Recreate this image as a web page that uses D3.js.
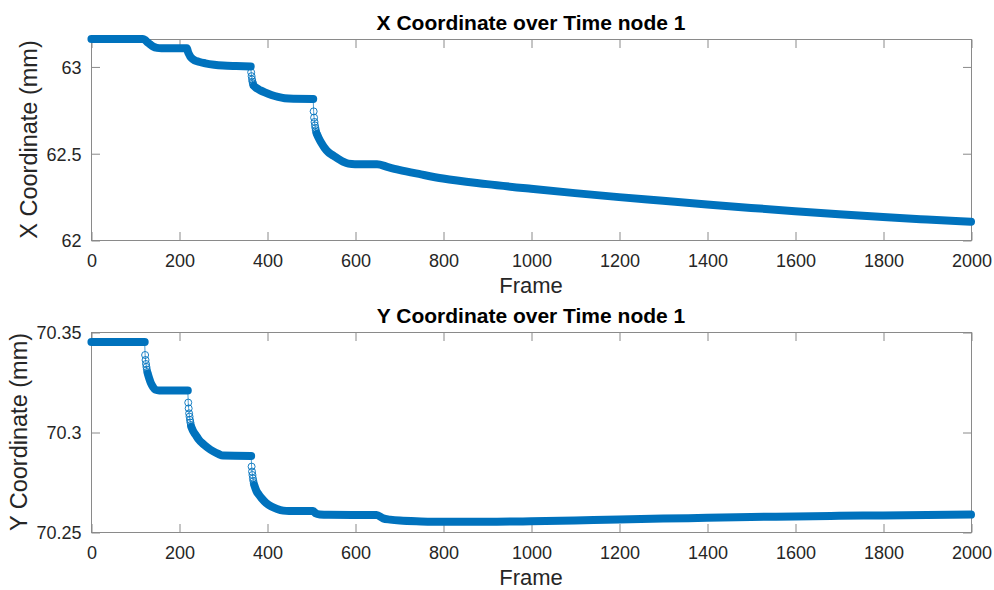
<!DOCTYPE html>
<html>
<head>
<meta charset="utf-8">
<script src="https://cdn.jsdelivr.net/npm/d3@7"></script>
<style>
  html, body { margin: 0; padding: 0; background: #fff; }
  svg { display: block; font-family: "Liberation Sans", Arial, Helvetica, sans-serif; }
</style>
</head>
<body>
<svg id="fig" width="994" height="590"></svg>
<script>
// ---- data -------------------------------------------------------------
const frameTicks = d3.range(0, 2001, 200);
const xCoordTicks = [62, 62.5, 63];
const yCoordTicks = [70.25, 70.3, 70.35];

// X coordinate of node 1: trace knots (frames where the markers merge into a solid run)
const xFrames = [1, 118, 123, 128, 134, 141, 150, 160, 218, 220, 222, 225, 229, 235, 245, 260, 280, 300, 330, 363,
  370, 375, 385, 395, 410, 425, 440, 460, 505,
  513, 518, 524, 531, 539, 547, 555, 565, 574, 585, 600, 650, 675, 700, 750, 800, 900, 1000, 1100, 1200, 1300,
  1400, 1500, 1600, 1700, 1800, 1900, 2000];
const xValues = [63.158, 63.158, 63.152, 63.14, 63.128, 63.115, 63.107, 63.105, 63.105, 63.088, 63.074, 63.06, 63.047,
  63.036, 63.027, 63.018, 63.01, 63.005, 63.002, 63.0,
  62.888, 62.877, 62.862, 62.85, 62.835, 62.824, 62.817, 62.814, 62.813,
  62.612, 62.585, 62.557, 62.53, 62.507, 62.492, 62.479, 62.463, 62.45, 62.44, 62.437, 62.437, 62.42, 62.404,
  62.378, 62.354, 62.322, 62.295, 62.27, 62.247, 62.226, 62.205, 62.185, 62.166, 62.148, 62.132, 62.118, 62.105];
// X coordinate: single frames inside the fast drops
const xDropFrames = [364, 365, 366, 367, 368, 369, 506, 507, 508, 509, 510, 511, 512];
const xDropValues = [62.966, 62.944, 62.925, 62.912, 62.902, 62.894, 62.741, 62.705, 62.68, 62.66, 62.645, 62.632, 62.621];

// Y coordinate of node 1: trace knots
const yFrames = [1, 122, 129, 132, 136, 141, 146, 155, 220,
  228, 232, 238, 245, 255, 265, 278, 290, 300, 364,
  371, 376, 382, 388, 398, 410, 423, 437, 450, 505, 510, 520, 540, 649, 664, 680, 702, 750, 800, 900, 1000,
  1100, 1200, 1300, 1400, 1500, 1600, 1700, 1800, 1900, 2000];
const yValues = [70.345, 70.345, 70.3292, 70.327, 70.3245, 70.3225, 70.3212, 70.3208, 70.3208,
  70.3025, 70.3005, 70.2985, 70.2962, 70.294, 70.2922, 70.2903, 70.289, 70.2882, 70.288,
  70.2735, 70.2705, 70.2685, 70.2668, 70.2645, 70.2627, 70.2615, 70.2607, 70.2605, 70.2605, 70.2594, 70.2588,
  70.2586, 70.2585, 70.2568, 70.2562, 70.2557, 70.2553, 70.2551, 70.2551, 70.2554,
  70.2558, 70.2562, 70.2567, 70.2571, 70.2575, 70.2578, 70.2581, 70.2583, 70.2585, 70.2587];
// Y coordinate: single frames inside the fast drops
const yDropFrames = [123, 124, 125, 126, 127, 128, 221, 222, 223, 224, 225, 226, 227, 365, 366, 367, 368, 369, 370];
const yDropValues = [70.3385, 70.336, 70.334, 70.3325, 70.3312, 70.33, 70.3147, 70.3118, 70.3093, 70.3077, 70.306,
  70.3047, 70.3035, 70.2827, 70.2802, 70.2785, 70.2768, 70.2755, 70.2744];

// ---- drawing ----------------------------------------------------------
const svg = d3.select("#fig");
const BLUE = "#0072BD";
const AXIS = "#8a8a8a";
const TEXT = "#262626";
const left = 91, right = 971;
const markerR = 3.5;

function splitRuns(frames, values, dropFrames) {
  const runs = [];
  let cur = [];
  frames.forEach((f, i) => {
    if (cur.length) {
      const prev = cur[cur.length - 1][0];
      if (dropFrames.some(d => d > prev && d < f)) { runs.push(cur); cur = []; }
    }
    cur.push([f, values[i]]);
  });
  if (cur.length) runs.push(cur);
  return runs;
}

function drawPanel(cfg) {
  const g = svg.append("g");
  const x = d3.scaleLinear().domain([0, 2000]).range([left, right]);
  const y = d3.scaleLinear().domain(cfg.domain).range([cfg.bottom, cfg.top]);
  const tickLen = 8.5;

  // box
  g.append("rect")
    .attr("x", left + 0.5).attr("y", cfg.top + 0.5)
    .attr("width", right - left).attr("height", cfg.bottom - cfg.top)
    .attr("fill", "none").attr("stroke", AXIS).attr("stroke-width", 1);

  // frame axis (bottom) with mirrored ticks on top
  const xAxis = d3.axisBottom(x).tickValues(frameTicks).tickSizeInner(-tickLen).tickSizeOuter(0)
    .tickPadding(0).tickFormat(d3.format("d"));
  const gx = g.append("g").attr("transform", `translate(0.5,${cfg.bottom + 0.5})`).call(xAxis);
  gx.select(".domain").remove();
  gx.selectAll(".tick line").attr("stroke", AXIS);
  gx.selectAll(".tick text").attr("fill", TEXT).attr("font-size", 18)
    .attr("y", 26).attr("dy", 0).style("font-family", "inherit");
  const gxTop = g.append("g").attr("transform", `translate(0.5,${cfg.top + 0.5})`)
    .call(d3.axisTop(x).tickValues(frameTicks).tickSizeInner(-tickLen).tickSizeOuter(0).tickFormat(""));
  gxTop.select(".domain").remove();
  gxTop.selectAll(".tick line").attr("stroke", AXIS);

  // value axis (left) with mirrored ticks on right
  const yAxis = d3.axisLeft(y).tickValues(cfg.ticks).tickSizeInner(-tickLen).tickSizeOuter(0)
    .tickPadding(0).tickFormat(d => String(d));
  const gy = g.append("g").attr("transform", `translate(${left + 0.5},0.5)`).call(yAxis);
  gy.select(".domain").remove();
  gy.selectAll(".tick line").attr("stroke", AXIS);
  gy.selectAll(".tick text").attr("fill", TEXT).attr("font-size", 18)
    .attr("x", -10).attr("dy", "0.35em").style("font-family", "inherit");
  const gyRight = g.append("g").attr("transform", `translate(${right + 0.5},0.5)`)
    .call(d3.axisRight(y).tickValues(cfg.ticks).tickSizeInner(-tickLen).tickSizeOuter(0).tickFormat(""));
  gyRight.select(".domain").remove();
  gyRight.selectAll(".tick line").attr("stroke", AXIS);

  // titles and labels
  g.append("text").attr("x", (left + right) / 2).attr("y", cfg.top - 9)
    .attr("text-anchor", "middle").attr("font-size", 21).attr("font-weight", "bold")
    .attr("fill", "#000").text(cfg.title);
  g.append("text").attr("x", (left + right) / 2).attr("y", cfg.bottom + 53)
    .attr("text-anchor", "middle").attr("font-size", 22).attr("fill", TEXT).text("Frame");
  let minLeft = Infinity;
  gy.selectAll(".tick text").each(function () {
    const b = this.getBBox();
    minLeft = Math.min(minLeft, left + b.x);
  });
  g.append("text")
    .attr("transform", `translate(${minLeft - 9},${(cfg.top + cfg.bottom) / 2}) rotate(-90)`)
    .attr("text-anchor", "middle").attr("font-size", 23.5).attr("fill", TEXT).text(cfg.ylabel);

  // series: thin connecting line through every sample
  const all = cfg.frames.map((f, i) => [f, cfg.values[i]])
    .concat(cfg.dropFrames.map((f, i) => [f, cfg.dropValues[i]]))
    .sort((a, b) => a[0] - b[0]);
  const thin = d3.line().x(d => x(d[0])).y(d => y(d[1]));
  g.append("path").attr("d", thin(all)).attr("fill", "none")
    .attr("stroke", BLUE).attr("stroke-width", 0.7);

  // densely packed markers merge into a solid run
  const band = d3.line().x(d => x(d[0])).y(d => y(d[1])).curve(d3.curveMonotoneX);
  splitRuns(cfg.frames, cfg.values, cfg.dropFrames).forEach(run => {
    g.append("path").attr("d", band(run)).attr("fill", "none")
      .attr("stroke", BLUE).attr("stroke-width", 2 * markerR + 1)
      .attr("stroke-linecap", "round").attr("stroke-linejoin", "round");
  });

  // individual circle markers in the fast drops
  g.selectAll("circle.drop").data(cfg.dropFrames.map((f, i) => [f, cfg.dropValues[i]]))
    .join("circle").attr("class", "drop")
    .attr("cx", d => x(d[0])).attr("cy", d => y(d[1])).attr("r", markerR)
    .attr("fill", "none").attr("stroke", BLUE).attr("stroke-width", 0.9);
}

drawPanel({
  top: 39, bottom: 240,
  domain: [62, d3.max(xValues)],
  ticks: xCoordTicks,
  title: "X Coordinate over Time node 1",
  ylabel: "X Coordinate (mm)",
  frames: xFrames, values: xValues, dropFrames: xDropFrames, dropValues: xDropValues
});
drawPanel({
  top: 332, bottom: 532,
  domain: [70.25, 70.35],
  ticks: yCoordTicks,
  title: "Y Coordinate over Time node 1",
  ylabel: "Y Coordinate (mm)",
  frames: yFrames, values: yValues, dropFrames: yDropFrames, dropValues: yDropValues
});
</script>
</body>
</html>
